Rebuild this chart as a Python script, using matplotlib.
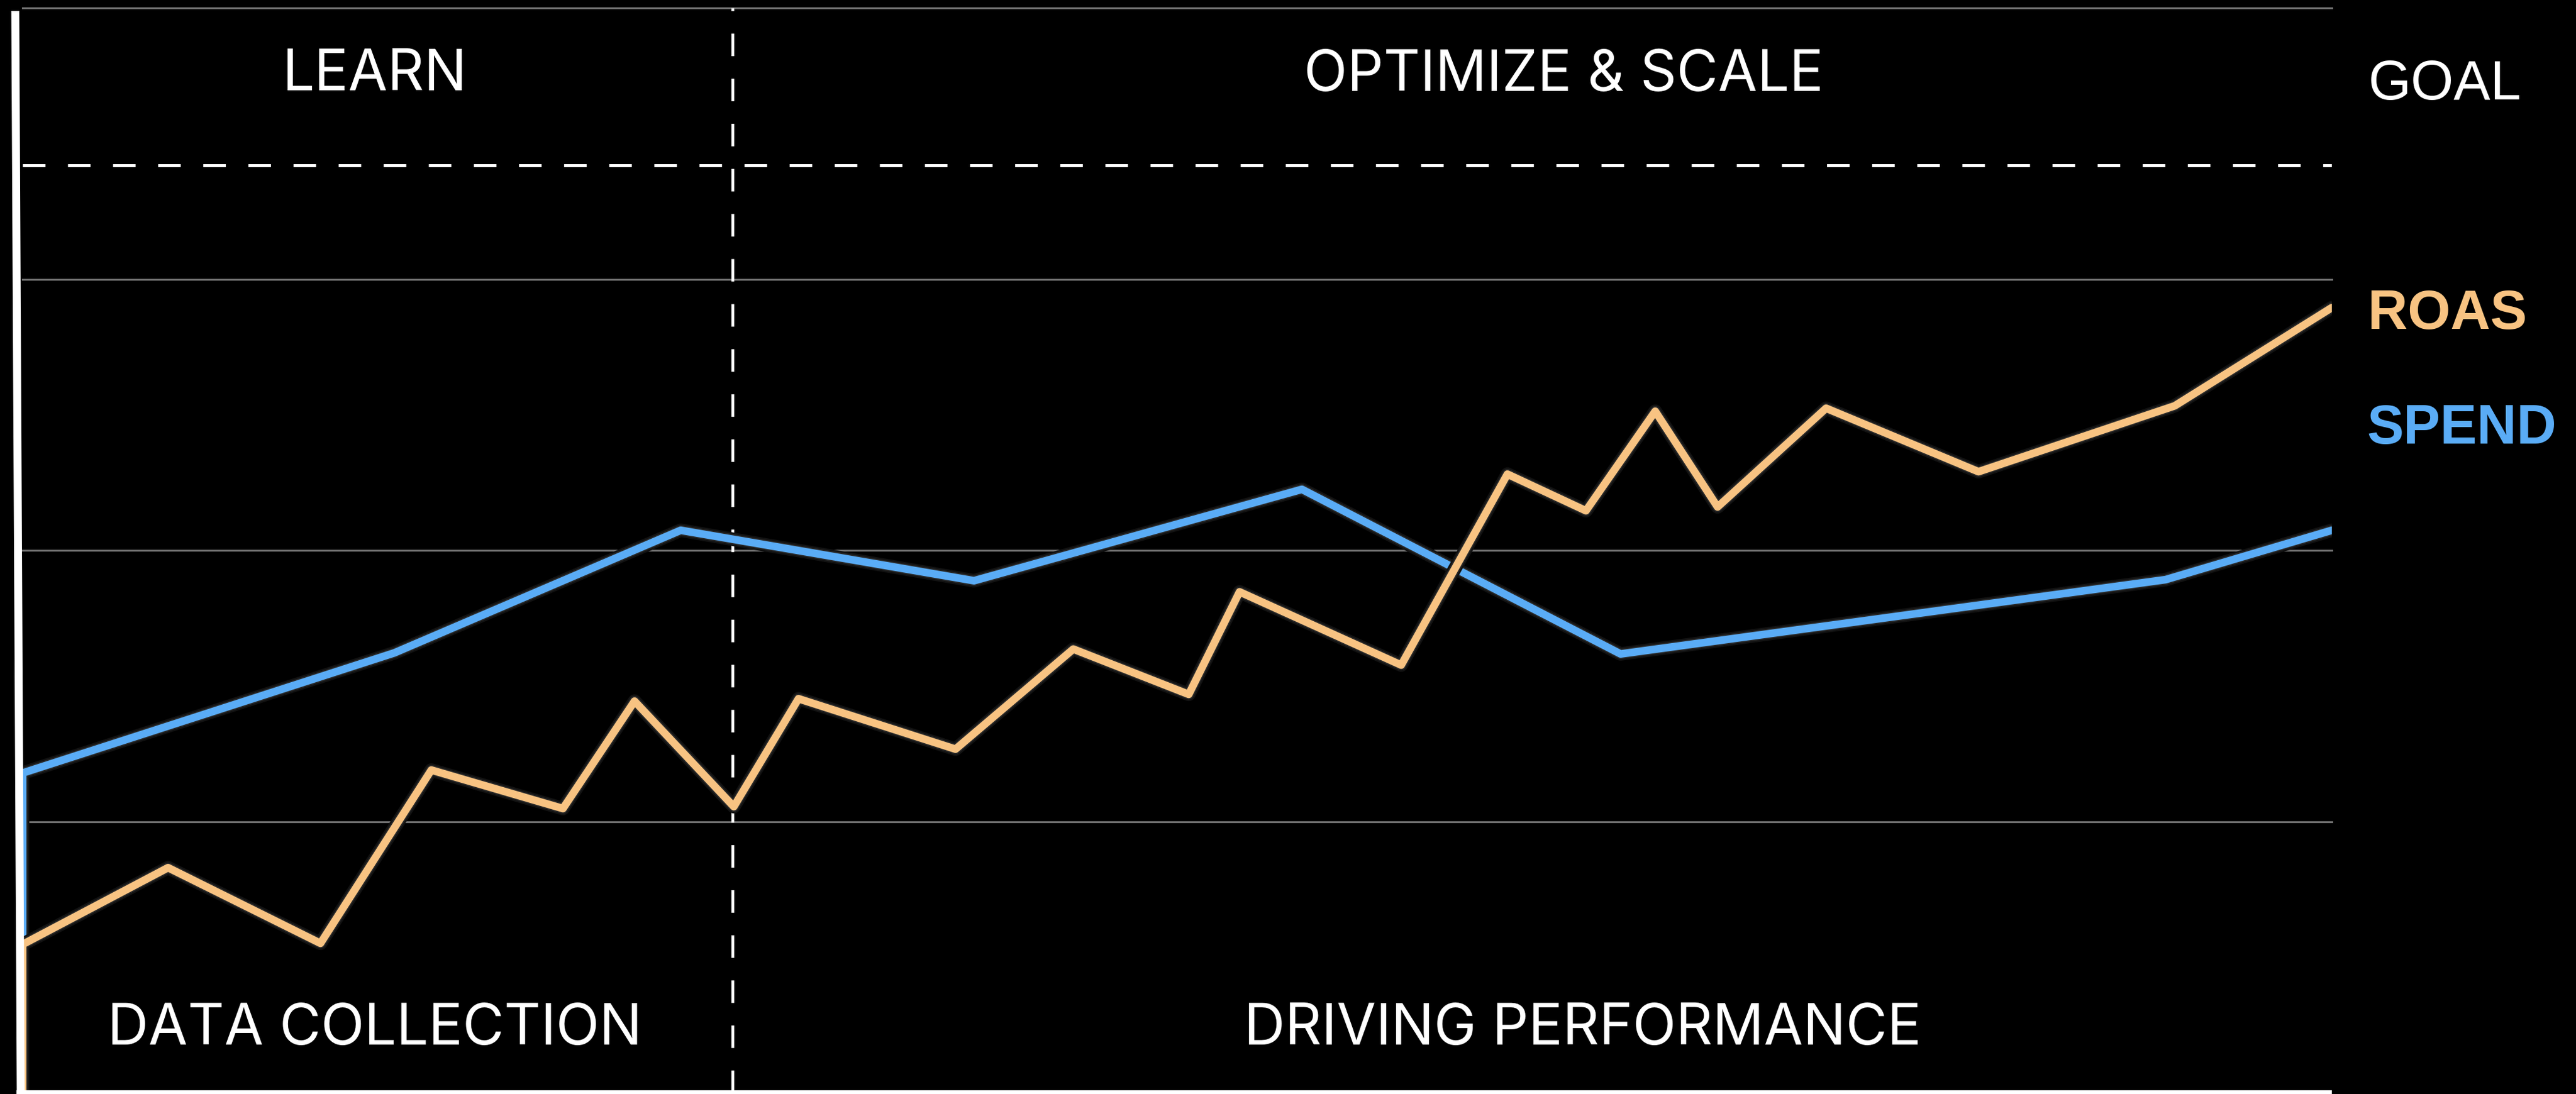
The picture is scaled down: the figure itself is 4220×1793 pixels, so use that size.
import matplotlib
matplotlib.use("Agg")
import matplotlib.pyplot as plt
from matplotlib.lines import Line2D
import matplotlib.patheffects as pe

# ---------------- data ----------------
roas_x = [0, 0, 6.3, 12.9, 17.7, 23.4, 26.5, 30.8, 33.6, 40.4, 45.5, 50.5, 52.7,
          59.7, 64.3, 67.7, 70.7, 73.4, 78.1, 84.7, 93.2, 100]
roas_y = [0, 0.547, 0.830, 0.551, 1.190, 1.048, 1.444, 1.055, 1.453, 1.267, 1.636,
          1.469, 1.847, 1.577, 2.281, 2.146, 2.513, 2.160, 2.524, 2.290, 2.533, 2.895]

spend_x = [0, 0, 16.1, 28.5, 41.2, 55.4, 69.2, 92.8, 100]
spend_y = [0, 1.179, 1.622, 2.074, 1.888, 2.225, 1.618, 1.892, 2.074]

grid_levels = [1, 2, 3, 4]
goal_level = 3.42
phase_split = 30.75

phase_top = ["LEARN", "OPTIMIZE & SCALE"]
phase_bottom = ["DATA COLLECTION", "DRIVING PERFORMANCE"]
series_labels = ["ROAS", "SPEND"]
goal_label = "GOAL"

# ---------------- style ----------------
W, H = 4220, 1793
DPI = 100
ORANGE = "#F8C382"
BLUE = "#5AACF6"
GRID = "#707070"
plt.rcParams["lines.scale_dashes"] = False

fig = plt.figure(figsize=(W / DPI, H / DPI), dpi=DPI, facecolor="black")

def fx(px):
    return px / W

def fy(py):
    return 1 - py / H

ax_left, ax_right, ax_top, ax_bottom = 37, 3820, 13, 1791
ax = fig.add_axes([fx(ax_left), fy(ax_bottom), fx(ax_right - ax_left),
                   (ax_bottom - ax_top) / H])
ax.set_facecolor("black")
ax.set_xlim(0, 100)
ax.set_ylim(0, 4)
for s in ax.spines.values():
    s.set_visible(False)
ax.set_xticks([])
ax.set_yticks([])

# gridlines
for g in grid_levels:
    ax.axhline(g, color=GRID, lw=2.2, clip_on=False, zorder=1)

# goal dashed line
ax.axhline(goal_level, color="white", lw=3.6, dashes=(26.6, 26.6),
           dash_capstyle="butt", zorder=2)

# phase divider (vertical dashed)
ax.axvline(phase_split, ymin=0, ymax=1, color="white", lw=3.3, dashes=(26.6, 26.6),
           dash_capstyle="butt", zorder=2, clip_on=False)
fig.add_artist(Line2D([fx(1203), fx(1203)], [fy(1791), fy(1793)], color="white", lw=3.3))

lw = 9.0
glow = [pe.Stroke(linewidth=lw + 7, foreground="#121212"),
        pe.Stroke(linewidth=lw + 3, foreground="#282828"),
        pe.Normal()]

ax.plot(spend_x, spend_y, color=BLUE, lw=lw, solid_joinstyle="round",
        solid_capstyle="round", path_effects=glow, zorder=4)
ax.plot(roas_x, roas_y, color=ORANGE, lw=lw, solid_joinstyle="round",
        solid_capstyle="round", path_effects=glow, zorder=5)

# left white axis bar (slightly slanted) and bottom bar
fig.add_artist(Line2D([fx(25), fx(34)], [fy(18), fy(1793)], color="white",
                      lw=9.4, solid_capstyle="butt", zorder=10))
fig.add_artist(Line2D([fx(27), fx(3820)], [fy(1790), fy(1790)], color="white",
                      lw=4.5, solid_capstyle="butt", zorder=10))

# texts
tfont = dict(family=["Inter", "DejaVu Sans"], color="white", fontsize=67,
             ha="center", va="baseline")
fig.text(fx(614), fy(148), phase_top[0], **tfont)
fig.text(fx(2562), fy(149), phase_top[1], **tfont)
fig.text(fx(614), fy(1712), phase_bottom[0], **tfont)
fig.text(fx(2593), fy(1712), phase_bottom[1], **tfont)

rfont = dict(family=["Liberation Sans", "DejaVu Sans"], fontsize=65,
             ha="left", va="baseline")
fig.text(fx(3879), fy(163), goal_label, color="white", **rfont)
fig.text(fx(3879), fy(539), series_labels[0], color=ORANGE, fontweight="bold", **rfont)
fig.text(fx(3877), fy(727), series_labels[1], color=BLUE, fontweight="bold", **rfont)

fig.savefig("out.png", dpi=DPI, facecolor="black")
